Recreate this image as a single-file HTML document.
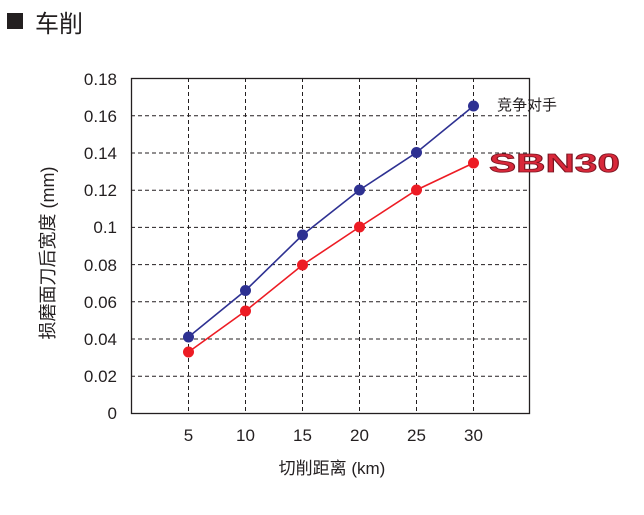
<!DOCTYPE html>
<html><head><meta charset="utf-8"><style>
html,body{margin:0;padding:0;background:#fff;}
svg{display:block;font-family:"Liberation Sans","Noto Sans CJK SC",sans-serif;}
</style></head><body>
<svg width="644" height="515" viewBox="0 0 644 515" xmlns="http://www.w3.org/2000/svg">
<rect x="7" y="13" width="16" height="16" fill="#231f20"/>
<text x="35" y="32" font-size="24" fill="#231f20">车削</text>
<g stroke="#231f20" stroke-width="1" stroke-dasharray="4,3">
<line x1="131" y1="115.8" x2="530" y2="115.8"/>
<line x1="131" y1="153" x2="530" y2="153"/>
<line x1="131" y1="190.2" x2="530" y2="190.2"/>
<line x1="131" y1="227.4" x2="530" y2="227.4"/>
<line x1="131" y1="264.6" x2="530" y2="264.6"/>
<line x1="131" y1="301.8" x2="530" y2="301.8"/>
<line x1="131" y1="339" x2="530" y2="339"/>
<line x1="131" y1="376.2" x2="530" y2="376.2"/>
<line x1="188.5" y1="78" x2="188.5" y2="413"/>
<line x1="245.5" y1="78" x2="245.5" y2="413"/>
<line x1="302.5" y1="78" x2="302.5" y2="413"/>
<line x1="359.5" y1="78" x2="359.5" y2="413"/>
<line x1="416.5" y1="78" x2="416.5" y2="413"/>
<line x1="473.5" y1="78" x2="473.5" y2="413"/>
</g>
<rect x="131.5" y="78.5" width="398" height="335" fill="none" stroke="#231f20" stroke-width="1.3"/>
<g font-size="17" fill="#231f20" text-anchor="end">
<text x="117" y="85">0.18</text><text x="117" y="122">0.16</text><text x="117" y="159">0.14</text>
<text x="117" y="196">0.12</text><text x="117" y="233">0.1</text><text x="117" y="271">0.08</text>
<text x="117" y="308">0.06</text><text x="117" y="345">0.04</text><text x="117" y="382">0.02</text>
<text x="117" y="419">0</text>
</g>
<g font-size="17" fill="#231f20" text-anchor="middle">
<text x="188.5" y="441">5</text><text x="245.5" y="441">10</text><text x="302.5" y="441">15</text>
<text x="359.5" y="441">20</text><text x="416.5" y="441">25</text><text x="473.5" y="441">30</text>
<text x="332" y="474">切削距离 (km)</text>
</g>
<text transform="translate(54,253) rotate(-90)" font-size="18" fill="#231f20" text-anchor="middle">损磨面刀后宽度 (mm)</text>
<polyline points="188.5,337 245.5,290.5 302.5,235 359.5,190 416.5,152.5 473.5,106" fill="none" stroke="#2e3192" stroke-width="1.6"/>
<polyline points="188.5,352 245.5,311 302.5,265 359.5,227 416.5,190 473.5,163" fill="none" stroke="#ed1c24" stroke-width="1.6"/>
<g fill="#2e3192">
<circle cx="188.5" cy="337" r="5.5"/><circle cx="245.5" cy="290.5" r="5.5"/><circle cx="302.5" cy="235" r="5.5"/>
<circle cx="359.5" cy="190" r="5.5"/><circle cx="416.5" cy="152.5" r="5.5"/><circle cx="473.5" cy="106" r="5.5"/>
</g>
<g fill="#ed1c24">
<circle cx="188.5" cy="352" r="5.5"/><circle cx="245.5" cy="311" r="5.5"/><circle cx="302.5" cy="265" r="5.5"/>
<circle cx="359.5" cy="227" r="5.5"/><circle cx="416.5" cy="190" r="5.5"/><circle cx="473.5" cy="163" r="5.5"/>
</g>
<text x="497" y="110" font-size="15" fill="#231f20">竞争对手</text>
<text x="489" y="172" font-size="26" font-weight="bold" fill="#d8283a" stroke="#7a1420" stroke-width="0.8" textLength="131" lengthAdjust="spacingAndGlyphs">SBN30</text>
</svg>
</body></html>
